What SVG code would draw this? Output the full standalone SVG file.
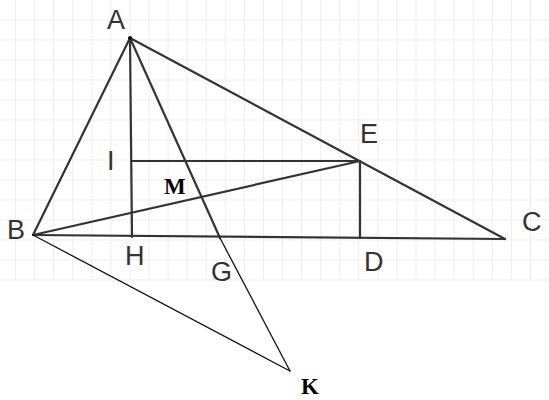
<svg xmlns="http://www.w3.org/2000/svg" width="549" height="400" viewBox="0 0 549 400">
<style>
.grid line{stroke:#ededed;stroke-width:1}
.seg{stroke:#333;stroke-width:2.2;stroke-linecap:round;fill:none}
.thin{stroke:#111;stroke-width:1.3;stroke-linecap:round;fill:none}
.lbl{font-family:"Liberation Sans",Arial,sans-serif;font-size:27px;fill:#333}
.blbl{font-family:"Liberation Serif","Times New Roman",serif;font-size:23px;font-weight:bold;fill:#000}
</style>
<rect width="549" height="400" fill="#fff"/>
<g class="grid">
<line x1="15.6" y1="0" x2="15.6" y2="280"/><line x1="34.7" y1="0" x2="34.7" y2="280"/><line x1="53.7" y1="0" x2="53.7" y2="280"/><line x1="72.8" y1="0" x2="72.8" y2="280"/><line x1="91.9" y1="0" x2="91.9" y2="280"/><line x1="110.9" y1="0" x2="110.9" y2="280"/><line x1="130" y1="0" x2="130" y2="280"/><line x1="149.1" y1="0" x2="149.1" y2="280"/><line x1="168.1" y1="0" x2="168.1" y2="280"/><line x1="187.2" y1="0" x2="187.2" y2="280"/><line x1="206.3" y1="0" x2="206.3" y2="280"/><line x1="225.4" y1="0" x2="225.4" y2="280"/><line x1="244.4" y1="0" x2="244.4" y2="280"/><line x1="263.5" y1="0" x2="263.5" y2="280"/><line x1="282.6" y1="0" x2="282.6" y2="280"/><line x1="301.6" y1="0" x2="301.6" y2="280"/><line x1="320.7" y1="0" x2="320.7" y2="280"/><line x1="339.8" y1="0" x2="339.8" y2="280"/><line x1="358.8" y1="0" x2="358.8" y2="280"/><line x1="377.9" y1="0" x2="377.9" y2="280"/><line x1="397" y1="0" x2="397" y2="280"/><line x1="416" y1="0" x2="416" y2="280"/><line x1="435.1" y1="0" x2="435.1" y2="280"/><line x1="454.2" y1="0" x2="454.2" y2="280"/><line x1="473.2" y1="0" x2="473.2" y2="280"/><line x1="492.3" y1="0" x2="492.3" y2="280"/><line x1="511.4" y1="0" x2="511.4" y2="280"/><line x1="530.5" y1="0" x2="530.5" y2="280"/>
<line x1="0" y1="20" x2="549" y2="20"/><line x1="0" y1="40" x2="549" y2="40"/><line x1="0" y1="60" x2="549" y2="60"/><line x1="0" y1="80" x2="549" y2="80"/><line x1="0" y1="100" x2="549" y2="100"/><line x1="0" y1="120" x2="549" y2="120"/><line x1="0" y1="140" x2="549" y2="140"/><line x1="0" y1="160" x2="549" y2="160"/><line x1="0" y1="180" x2="549" y2="180"/><line x1="0" y1="200" x2="549" y2="200"/><line x1="0" y1="220" x2="549" y2="220"/><line x1="0" y1="240" x2="549" y2="240"/><line x1="0" y1="260" x2="549" y2="260"/><line x1="0" y1="280" x2="549" y2="280"/>
</g>
<g id="connectors">
<line class="seg" x1="130" y1="38" x2="33" y2="235"/>
<line class="seg" x1="130" y1="38" x2="505" y2="239"/>
<line class="seg" x1="130" y1="38" x2="132" y2="237"/>
<line class="seg" x1="130" y1="38" x2="220" y2="238"/>
<line class="seg" x1="131" y1="161" x2="360" y2="161"/>
<line class="seg" x1="33" y1="235" x2="360" y2="161"/>
<line class="seg" x1="360" y1="161" x2="360" y2="238"/>
<line class="seg" x1="33" y1="235" x2="505" y2="239"/>
<line class="thin" x1="33" y1="235" x2="290" y2="371"/>
<line class="thin" x1="220" y1="238" x2="290" y2="371"/>
</g>
<g id="A"><circle cx="130" cy="38" r="2" fill="#111"/><text class="lbl" x="107" y="29">A</text></g>
<g id="I"><text class="lbl" x="107" y="170">I</text></g>
<g id="M"><text class="blbl" x="164" y="194">M</text></g>
<g id="E"><text class="lbl" x="360" y="143">E</text></g>
<g id="B"><text class="lbl" x="7" y="239">B</text></g>
<g id="H"><text class="lbl" x="125" y="265">H</text></g>
<g id="G"><text class="lbl" x="211" y="281">G</text></g>
<g id="D"><text class="lbl" x="364" y="271">D</text></g>
<g id="C"><text class="lbl" x="522" y="231">C</text></g>
<g id="K"><text class="blbl" x="301" y="394">K</text></g>
</svg>
